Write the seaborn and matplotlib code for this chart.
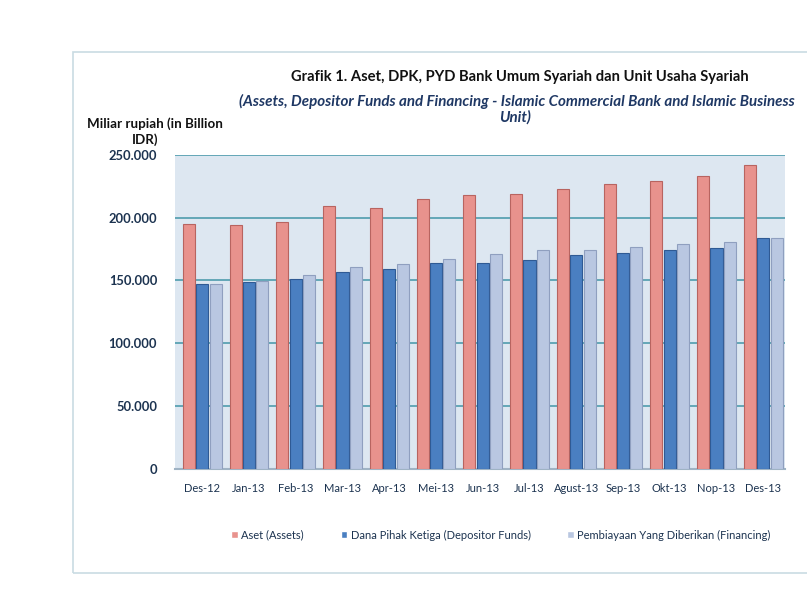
import matplotlib
matplotlib.use('Agg')
import pandas as pd
import matplotlib.pyplot as plt
import seaborn as sns
from matplotlib.patches import Rectangle
from matplotlib.ticker import FuncFormatter

# Data (Miliar rupiah)
months = ['Des-12', 'Jan-13', 'Feb-13', 'Mar-13', 'Apr-13', 'Mei-13', 'Jun-13',
          'Jul-13', 'Agust-13', 'Sep-13', 'Okt-13', 'Nop-13', 'Des-13']
aset = [195018, 194000, 196500, 209000, 207500, 215000, 218000,
        219000, 223000, 227000, 229000, 233000, 242276]
dpk = [147512, 149000, 151500, 157000, 159000, 164000, 164000,
       166000, 170000, 172000, 174000, 176000, 183534]
pyd = [147505, 149500, 154000, 161000, 163000, 167000, 171000,
       174000, 174500, 177000, 179000, 180500, 184122]

series = ['Aset (Assets)', 'Dana Pihak Ketiga (Depositor Funds)',
          'Pembiayaan Yang Diberikan (Financing)']
colors = ['#e8928d', '#4a7fc1', '#b9c7e1']
edges = ['#b86460', '#2f5a94', '#8f9fbf']

df = pd.DataFrame({
    'month': months * 3,
    'value': aset + dpk + pyd,
    'series': [series[0]] * 13 + [series[1]] * 13 + [series[2]] * 13,
})

sns.set_style('white')
plt.rcParams['font.family'] = ['Lato', 'DejaVu Sans']
text_col = '#1c3350'

fig = plt.figure(figsize=(8.07, 5.98), dpi=100)
ax = fig.add_axes([0.217, 0.216, 0.756, 0.525])

sns.barplot(data=df, x='month', y='value', hue='series', palette=colors,
            saturation=1, width=0.86, gap=0.1, ax=ax, legend=False, zorder=3)

for i, cont in enumerate(ax.containers):
    for bar in cont:
        bar.set_edgecolor(edges[i])
        bar.set_linewidth(0.8)

ax.set_facecolor('#dde7f1')
ax.set_ylim(0, 250000)
ax.set_xlim(-0.58, 12.47)
ax.set_yticks([0, 50000, 100000, 150000, 200000, 250000])
ax.yaxis.set_major_formatter(FuncFormatter(lambda v, p: '0' if v == 0 else f'{int(v):,}'.replace(',', '.')))
ax.grid(axis='y', color='#5aa2b2', linewidth=1.3, zorder=0)
ax.set_axisbelow(True)
for s in ['top', 'right', 'left']:
    ax.spines[s].set_visible(False)
ax.spines['bottom'].set_color('#9fb3c4')
ax.spines['bottom'].set_linewidth(1.5)
ax.tick_params(axis='y', labelsize=9.3, labelcolor=text_col, length=0, pad=13)
ax.tick_params(axis='x', labelsize=8, labelcolor=text_col, length=0, pad=10)
for lbl in ax.get_yticklabels():
    lbl.set_fontweight('bold')
ax.set_xlabel('')
ax.set_ylabel('')

fig.text(0.644, 0.871, 'Grafik 1. Aset, DPK, PYD Bank Umum Syariah dan Unit Usaha Syariah',
         ha='center', va='center', fontsize=10.6, fontweight='bold', color='#111111')
fig.text(0.640, 0.831, '(Assets, Depositor Funds and Financing - Islamic Commercial Bank and Islamic Business',
         ha='center', va='center', fontsize=10.9, fontweight='bold', style='italic', color='#1f3864')
fig.text(0.638, 0.803, 'Unit)', ha='center', va='center', fontsize=10.9,
         fontweight='bold', style='italic', color='#1f3864')
fig.text(0.192, 0.794, 'Miliar rupiah (in Billion', ha='center', va='center',
         fontsize=9.6, fontweight='bold', color='#111111')
fig.text(0.180, 0.766, 'IDR)', ha='center', va='center',
         fontsize=9.6, fontweight='bold', color='#111111')

handles = [Rectangle((0, 0), 1, 1, facecolor=c) for c in colors]
fig.legend(handles, series, loc='center', bbox_to_anchor=(0.621, 0.105), ncol=3,
           frameon=False, fontsize=8, handlelength=0.6, handleheight=0.6,
           handletextpad=0.3, columnspacing=3.3, labelcolor=text_col)

fig.add_artist(Rectangle((0.091, 0.042), 1.0, 0.871, transform=fig.transFigure,
                         fill=False, edgecolor='#c9dbe3', linewidth=1.2))

fig.savefig('out.png', dpi=100)
